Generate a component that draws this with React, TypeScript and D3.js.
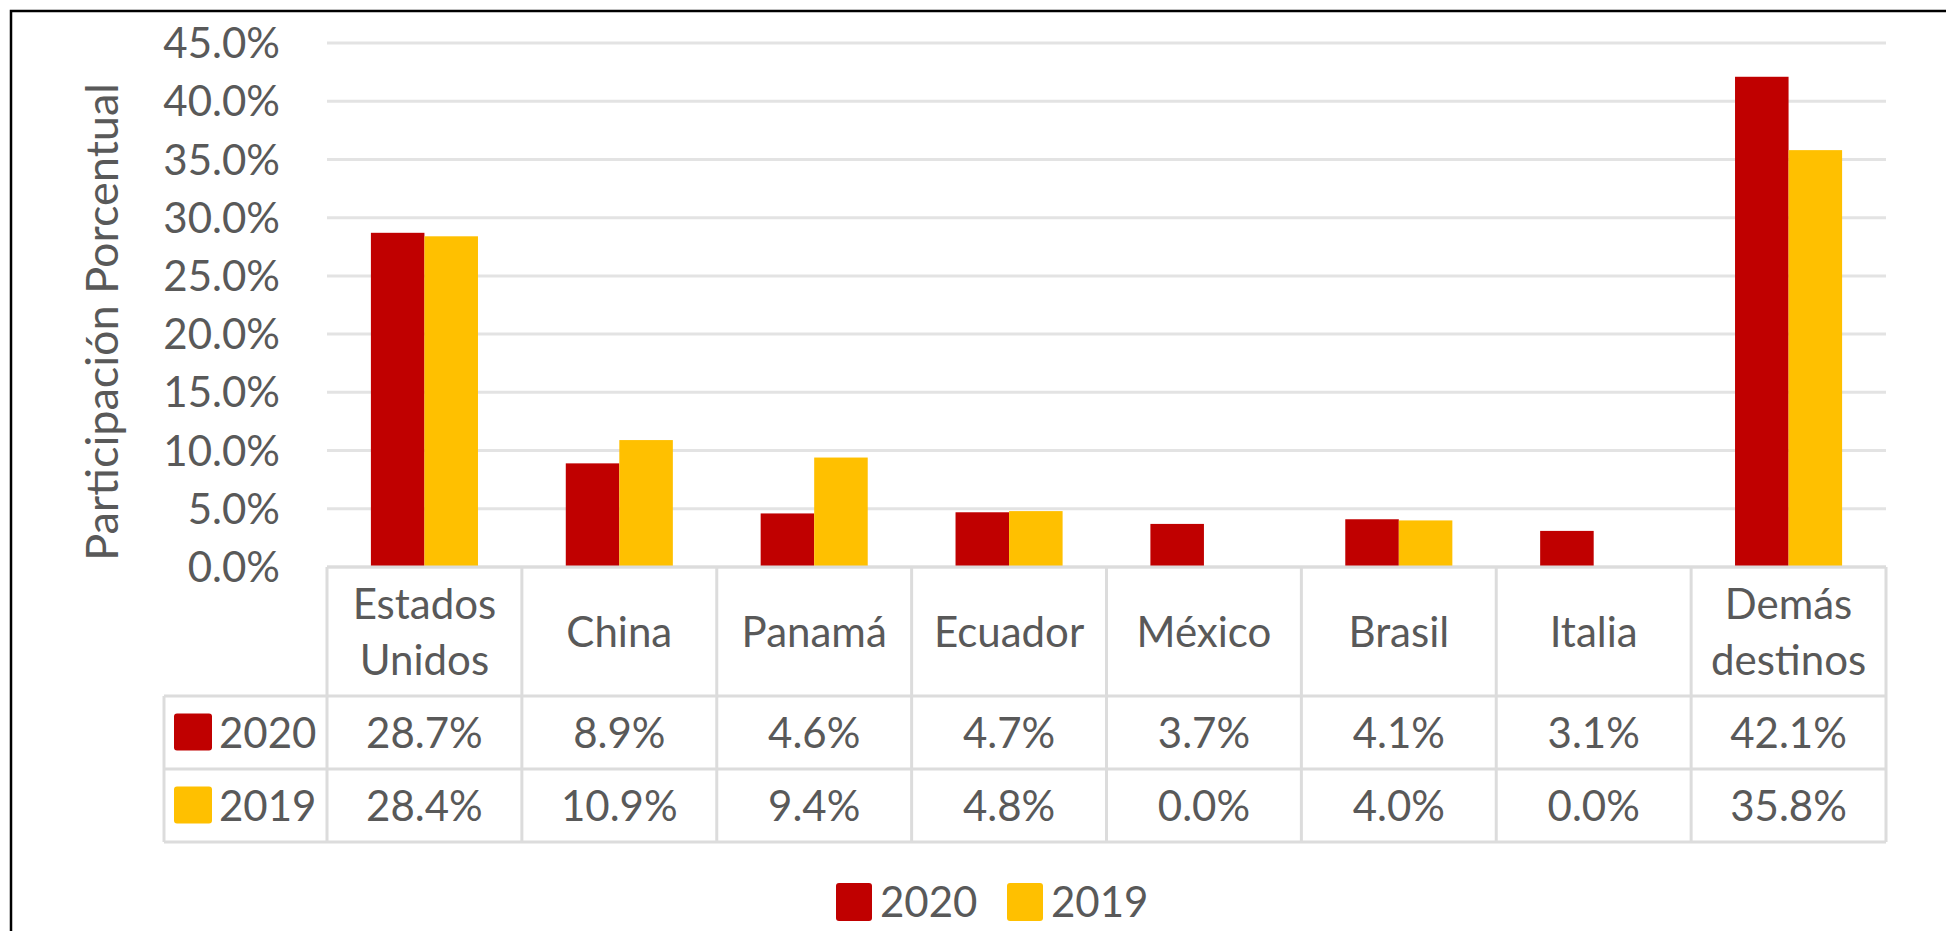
import React from "react";
import * as d3 from "d3";

const categories = ["Estados\nUnidos", "China", "Panamá", "Ecuador", "México", "Brasil", "Italia", "Demás\ndestinos"];
const seriesNames = ["2020", "2019"];
const values2020 = [28.7, 8.9, 4.6, 4.7, 3.7, 4.1, 3.1, 42.1];
const values2019 = [28.4, 10.9, 9.4, 4.8, 0.0, 4.0, 0.0, 35.8];
const yTicks = [0, 5, 10, 15, 20, 25, 30, 35, 40, 45];
const colors = ["#C00000", "#FFC000"];
const yTitle = "Participación Porcentual";

const W = 1946;
const H = 931;
const FONT = "Lato, 'Open Sans', sans-serif";
const TEXT = "#595959";
const GRID = "#E3E3E3";
const TABLE = "#DCDCDC";

export default function App() {
  const plotLeft = 327;
  const plotRight = 1886;
  const plotTop = 43;
  const plotBottom = 567;
  const headerBottom = 696;
  const row1Bottom = 769;
  const row2Bottom = 842;
  const tableLeft = 164;

  const x0 = d3.scaleBand<string>().domain(categories).range([plotLeft, plotRight]).paddingInner(0).paddingOuter(0);
  const x1 = d3.scaleBand<string>().domain(seriesNames).range([0, x0.bandwidth()]).paddingInner(0).paddingOuter(0.82);
  const y = d3.scaleLinear().domain([0, 45]).range([plotBottom, plotTop]);
  const fmt = d3.format(".1f");
  const series = [values2020, values2019];
  const rowsY: [number, number][] = [
    [headerBottom, row1Bottom],
    [row1Bottom, row2Bottom],
  ];

  return (
    <svg
      width={W}
      height={H}
      style={{ position: "absolute", left: 0, top: 0, background: "#fff" }}
      fontFamily={FONT}
    >
      <rect x={0} y={0} width={W} height={H} fill="#fff" />
      {/* outer border (right and bottom edges lie beyond the picture) */}
      <rect x={11} y={11} width={2000} height={1000} fill="none" stroke="#000" strokeWidth={2.5} />

      {/* gridlines */}
      {yTicks.map((t) => (
        <line key={"g" + t} x1={plotLeft} x2={plotRight} y1={y(t)} y2={y(t)} stroke={GRID} strokeWidth={3} />
      ))}

      {/* y tick labels */}
      {yTicks.map((t) => (
        <text key={"t" + t} x={280} y={y(t)} dy="0.36em" textAnchor="end" fontSize={42} fill={TEXT}>
          {fmt(t) + "%"}
        </text>
      ))}

      {/* y axis title */}
      <text
        transform={`translate(${118},${322}) rotate(-90)`}
        textAnchor="middle"
        fontSize={45}
        fill={TEXT}
      >
        {yTitle}
      </text>

      {/* bars */}
      {categories.map((c, i) => (
        <g key={"b" + c}>
          {seriesNames.map((s, j) => {
            const v = series[j][i];
            if (v <= 0) return null;
            return (
              <rect
                key={s}
                x={(x0(c) as number) + (x1(s) as number)}
                y={y(v)}
                width={x1.bandwidth()}
                height={y(0) - y(v)}
                fill={colors[j]}
              />
            );
          })}
        </g>
      ))}

      {/* data table */}
      <g stroke={TABLE} strokeWidth={3} fill="none">
        <line x1={plotLeft} x2={plotRight} y1={plotBottom} y2={plotBottom} />
        <line x1={tableLeft} x2={plotRight} y1={headerBottom} y2={headerBottom} />
        <line x1={tableLeft} x2={plotRight} y1={row1Bottom} y2={row1Bottom} />
        <line x1={tableLeft} x2={plotRight} y1={row2Bottom} y2={row2Bottom} />
        <line x1={tableLeft} x2={tableLeft} y1={headerBottom} y2={row2Bottom} />
        {categories.map((c) => (
          <line key={"v" + c} x1={x0(c)} x2={x0(c)} y1={plotBottom} y2={row2Bottom} />
        ))}
        <line x1={plotRight} x2={plotRight} y1={plotBottom} y2={row2Bottom} />
      </g>

      {/* category headers */}
      {categories.map((c) => {
        const lines = c.split("\n");
        const cx = (x0(c) as number) + x0.bandwidth() / 2;
        const cy = (plotBottom + headerBottom) / 2;
        const lh = 56;
        return (
          <text key={"h" + c} x={cx} textAnchor="middle" fontSize={42} fill={TEXT}>
            {lines.map((l, k) => (
              <tspan key={k} x={cx} y={cy + (k - (lines.length - 1) / 2) * lh} dy="0.36em">
                {l}
              </tspan>
            ))}
          </text>
        );
      })}

      {/* table rows */}
      {seriesNames.map((s, j) => {
        const [t, b] = rowsY[j];
        const cy = (t + b) / 2;
        return (
          <g key={"r" + s}>
            <rect x={174} y={cy - 19} width={38} height={37} rx={3} fill={colors[j]} />
            <text x={219} y={cy} dy="0.36em" fontSize={42} fill={TEXT}>
              {s}
            </text>
            {categories.map((c, i) => (
              <text
                key={c}
                x={(x0(c) as number) + x0.bandwidth() / 2}
                y={cy}
                dy="0.36em"
                textAnchor="middle"
                fontSize={42}
                fill={TEXT}
              >
                {fmt(series[j][i]) + "%"}
              </text>
            ))}
          </g>
        );
      })}

      {/* legend */}
      {seriesNames.map((s, j) => {
        const lx = 836 + j * 171;
        return (
          <g key={"l" + s}>
            <rect x={lx} y={883} width={36} height={38} rx={3} fill={colors[j]} />
            <text x={lx + 44} y={902} dy="0.36em" fontSize={42} fill={TEXT}>
              {s}
            </text>
          </g>
        );
      })}
    </svg>
  );
}
